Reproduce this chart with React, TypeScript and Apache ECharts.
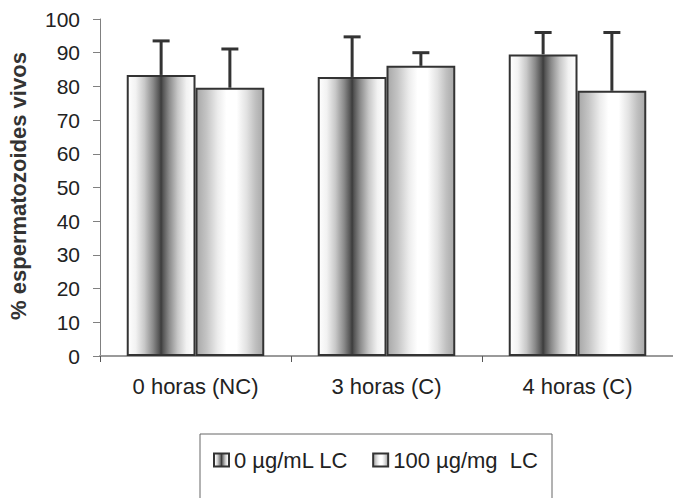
import React, { useEffect, useRef } from "react";
import * as echarts from "echarts";

const categories = ["0 horas (NC)", "3 horas (C)", "4 horas (C)"];
const seriesNames = ["0 µg/mL LC", "100 µg/mg  LC"];
const valuesLC0 = [83.4, 82.8, 89.5];
const valuesLC100 = [79.6, 86.1, 78.7];
const errTopLC0 = [93.5, 94.7, 96.0];
const errTopLC100 = [91.1, 90.0, 96.0];
const yTicks = [0, 10, 20, 30, 40, 50, 60, 70, 80, 90, 100];
const yAxisTitle = "% espermatozoides vivos";

const FONT = "'Liberation Sans', Arial, sans-serif";

const grad1 = new echarts.graphic.LinearGradient(0, 0, 1, 0, [
  { offset: 0, color: "#ffffff" },
  { offset: 0.12, color: "#f2f2f2" },
  { offset: 0.25, color: "#c8c8c8" },
  { offset: 0.38, color: "#8a8a8a" },
  { offset: 0.47, color: "#555555" },
  { offset: 0.5, color: "#3c3c3c" },
  { offset: 0.53, color: "#555555" },
  { offset: 0.62, color: "#8a8a8a" },
  { offset: 0.75, color: "#c8c8c8" },
  { offset: 0.88, color: "#f2f2f2" },
  { offset: 1, color: "#ffffff" },
]);

const grad2 = new echarts.graphic.LinearGradient(0, 0, 1, 0, [
  { offset: 0, color: "#a8a8a8" },
  { offset: 0.15, color: "#c4c4c4" },
  { offset: 0.32, color: "#ececec" },
  { offset: 0.45, color: "#ffffff" },
  { offset: 0.6, color: "#ffffff" },
  { offset: 0.75, color: "#e2e2e2" },
  { offset: 0.88, color: "#c0c0c0" },
  { offset: 1, color: "#a8a8a8" },
]);

function errorSeries(vals: number[], tops: number[], side: number) {
  return {
    type: "custom",
    z: 5,
    silent: true,
    data: vals.map((v, i) => [i, v, tops[i]]),
    encode: { x: 0, y: [1, 2] },
    renderItem: (params: any, api: any) => {
      const cat = api.value(0);
      const bw = api.size([1, 0])[0];
      const off = side * bw * 0.18;
      const p0 = api.coord([cat, api.value(1)]);
      const p1 = api.coord([cat, api.value(2)]);
      const x = p0[0] + off;
      const style = { stroke: "#333333", lineWidth: 3 };
      return {
        type: "group",
        children: [
          { type: "line", shape: { x1: x, y1: p0[1], x2: x, y2: p1[1] }, style },
          { type: "line", shape: { x1: x - 8.5, y1: p1[1], x2: x + 8.5, y2: p1[1] }, style },
        ],
      };
    },
  };
}

export default function App() {
  const ref = useRef<HTMLDivElement>(null);
  useEffect(() => {
    if (!ref.current) return;
    const chart = echarts.init(ref.current, null, { renderer: "svg" });
    chart.setOption({
      animation: false,
      backgroundColor: "#ffffff",
      textStyle: { fontFamily: FONT },
      grid: { left: 100, right: -3, top: 19, bottom: 142 },
      xAxis: {
        type: "category",
        data: categories,
        axisLine: { lineStyle: { color: "#9a9a9a", width: 2 } },
        axisTick: { show: true, length: 6, lineStyle: { color: "#555555", width: 1 } },
        axisLabel: { fontSize: 22, color: "#222222", margin: 19, fontFamily: FONT },
      },
      yAxis: {
        type: "value",
        min: yTicks[0],
        max: yTicks[yTicks.length - 1],
        interval: 10,
        splitLine: { show: false },
        axisLine: { show: true, lineStyle: { color: "#808080", width: 1 } },
        axisTick: { show: true, length: 7, lineStyle: { color: "#808080", width: 1 } },
        axisLabel: { fontSize: 21, color: "#222222", margin: 20, fontFamily: FONT },
      },
      legend: {
        left: 213,
        top: 449,
        padding: 0,
        icon: "rect",
        itemWidth: 15,
        itemHeight: 13,
        itemGap: 24,
        textStyle: { fontSize: 22, color: "#222222", fontFamily: FONT },
        data: seriesNames,
      },
      graphic: [
        {
          type: "rect",
          shape: { x: 200, y: 434, width: 352, height: 100 },
          style: { fill: "none", stroke: "#666666", lineWidth: 1 },
          silent: true,
        },
        {
          type: "text",
          x: 18,
          y: 186,
          rotation: Math.PI / 2,
          style: {
            text: yAxisTitle,
            fontSize: 22,
            fontWeight: "bold",
            fontFamily: FONT,
            fill: "#333333",
            align: "center",
            verticalAlign: "middle",
          },
        },
      ],
      series: [
        {
          name: seriesNames[0],
          type: "bar",
          data: valuesLC0,
          barWidth: "36%",
          barGap: "0%",
          itemStyle: { color: grad1, borderColor: "#333333", borderWidth: 2 },
        },
        {
          name: seriesNames[1],
          type: "bar",
          data: valuesLC100,
          barWidth: "36%",
          barGap: "0%",
          itemStyle: { color: grad2, borderColor: "#333333", borderWidth: 2 },
        },
        errorSeries(valuesLC0, errTopLC0, -1),
        errorSeries(valuesLC100, errTopLC100, 1),
      ],
    });
    return () => chart.dispose();
  }, []);
  return (
    <div
      ref={ref}
      style={{ position: "fixed", left: 0, top: 0, width: 673, height: 498 }}
    />
  );
}
